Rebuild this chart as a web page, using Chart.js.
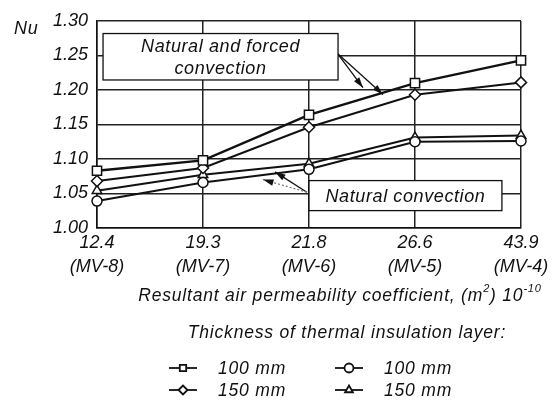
<!DOCTYPE html>
<html>
<head>
<meta charset="utf-8">
<script src="https://cdn.jsdelivr.net/npm/chart.js@4.4.1/dist/chart.umd.min.js"></script>
<style>
  html, body { margin: 0; padding: 0; background: #fff; }
</style>
</head>
<body>
<canvas id="nuChart" width="553" height="404"></canvas>
<script>
// x categories: permeability value + sample name
const permeability = ["12.4", "19.3", "21.8", "26.6", "43.9"];
const samples = ["(MV-8)", "(MV-7)", "(MV-6)", "(MV-5)", "(MV-4)"];

// Nu values
const forced100 = [1.083, 1.098, 1.164, 1.210, 1.243];
const forced150 = [1.068, 1.087, 1.146, 1.193, 1.211];
const natural100 = [1.039, 1.066, 1.085, 1.125, 1.126];
const natural150 = [1.054, 1.077, 1.093, 1.131, 1.134];

const legendLabels = ["100 mm", "150 mm", "100 mm", "150 mm"];

const FONT = "'Liberation Sans', Arial, sans-serif";
const INK = "#111";

Chart.defaults.font.family = FONT;
Chart.defaults.font.style = "italic";
Chart.defaults.font.size = 18;
Chart.defaults.color = INK;

function italic(size) {
  return "italic " + size + "px " + FONT;
}

// boxes + arrows, given in data units (category index, Nu)
const notes = [
  {
    lines: ["Natural and forced", "convection"],
    box: [0.057, 1.2818, 2.274, 1.2145],
    arrows: [
      { from: [2.264, 1.2537], to: [2.509, 1.2033], dotted: false },
      { from: [2.264, 1.2537], to: [2.698, 1.1935], dotted: false },
    ],
  },
  {
    lines: ["Natural convection"],
    box: [2.0, 1.0687, 3.82, 1.0252],
    arrows: [
      { from: [1.98, 1.0519], to: [1.68, 1.0813], dotted: false },
      { from: [1.98, 1.0519], to: [1.566, 1.0701], dotted: true },
    ],
  },
];

function arrow(ctx, x1, y1, x2, y2, dotted) {
  const ang = Math.atan2(y2 - y1, x2 - x1);
  ctx.save();
  ctx.strokeStyle = dotted ? "#777" : INK;
  ctx.lineWidth = dotted ? 1.2 : 1.3;
  if (dotted) ctx.setLineDash([2, 2]);
  ctx.beginPath();
  ctx.moveTo(x1, y1);
  ctx.lineTo(x2, y2);
  ctx.stroke();
  ctx.setLineDash([]);
  ctx.fillStyle = INK;
  ctx.beginPath();
  ctx.moveTo(x2, y2);
  ctx.lineTo(x2 - 11 * Math.cos(ang - 0.3), y2 - 11 * Math.sin(ang - 0.3));
  ctx.lineTo(x2 - 11 * Math.cos(ang + 0.3), y2 - 11 * Math.sin(ang + 0.3));
  ctx.closePath();
  ctx.fill();
  ctx.restore();
}

const notesPlugin = {
  id: "notes",
  afterDatasetsDraw(chart) {
    const ctx = chart.ctx;
    const xs = chart.scales.x;
    const ys = chart.scales.y;
    notes.forEach((n) => {
      const x1 = xs.getPixelForValue(n.box[0]);
      const y1 = ys.getPixelForValue(n.box[1]);
      const x2 = xs.getPixelForValue(n.box[2]);
      const y2 = ys.getPixelForValue(n.box[3]);
      n.arrows.forEach((a) => {
        arrow(ctx, xs.getPixelForValue(a.from[0]), ys.getPixelForValue(a.from[1]),
          xs.getPixelForValue(a.to[0]), ys.getPixelForValue(a.to[1]), a.dotted);
      });
      ctx.save();
      ctx.fillStyle = "#fff";
      ctx.strokeStyle = INK;
      ctx.lineWidth = 1.3;
      ctx.fillRect(x1, y1, x2 - x1, y2 - y1);
      ctx.strokeRect(x1, y1, x2 - x1, y2 - y1);
      ctx.fillStyle = INK;
      ctx.font = italic(18);
      ctx.letterSpacing = "0.6px";
      ctx.textAlign = "center";
      ctx.textBaseline = "middle";
      const cx = (x1 + x2) / 2;
      const lh = 22;
      const top = (y1 + y2) / 2 - ((n.lines.length - 1) * lh) / 2;
      n.lines.forEach((t, i) => ctx.fillText(t, cx, top + i * lh + 1));
      ctx.restore();
    });
  },
  afterDraw(chart) {
    const ctx = chart.ctx;
    ctx.save();
    ctx.fillStyle = INK;
    ctx.textBaseline = "middle";
    ctx.letterSpacing = "0.8px";

    // y title
    ctx.font = italic(18);
    ctx.textAlign = "left";
    ctx.fillText("Nu", 14, 29);

    // x title with superscripts
    const parts = [
      ["Resultant air permeability coefficient, (m", false],
      ["2", true],
      [") 10", false],
      ["-10", true],
    ];
    let w = 0;
    parts.forEach((p) => {
      ctx.font = italic(p[1] ? 11 : 17.5);
      w += ctx.measureText(p[0]).width;
    });
    let x = 340 - w / 2;
    parts.forEach((p) => {
      ctx.font = italic(p[1] ? 11 : 17.5);
      ctx.fillText(p[0], x, p[1] ? 289 : 296);
      x += ctx.measureText(p[0]).width;
    });

    // legend
    ctx.font = italic(17.5);
    ctx.textAlign = "center";
    ctx.fillText("Thickness of thermal insulation layer:", 347, 333);

    const slots = [
      [183, 368],
      [183, 390],
      [349, 368],
      [349, 390],
    ];
    ctx.textAlign = "left";
    slots.forEach((s, i) => {
      const ds = chart.data.datasets[i];
      ctx.strokeStyle = INK;
      ctx.lineWidth = 1.8;
      ctx.beginPath();
      ctx.moveTo(s[0] - 14, s[1]);
      ctx.lineTo(s[0] + 14, s[1]);
      ctx.stroke();
      ctx.fillStyle = "#fff";
      Chart.helpers.drawPoint(ctx, {
        pointStyle: ds.pointStyle,
        radius: 4.5,
        borderWidth: 1.2,
      }, s[0], s[1]);
      ctx.fillStyle = INK;
      ctx.fillText(legendLabels[i], s[0] + 35, s[1] + 1);
    });
    ctx.restore();
  },
};

function series(data, style, radius, width) {
  return {
    data: data,
    borderColor: INK,
    borderWidth: width,
    pointStyle: style,
    pointRadius: radius,
    pointBackgroundColor: "#fff",
    pointBorderColor: INK,
    pointBorderWidth: 1.5,
    tension: 0,
  };
}

const tickFont = { family: FONT, style: "italic", size: 18, lineHeight: 1.33 };

new Chart(document.getElementById("nuChart"), {
  type: "line",
  data: {
    labels: permeability.map((p, i) => [p, samples[i]]),
    datasets: [
      series(forced100, "rect", 6.5, 2.4),
      series(forced150, "rectRot", 5.5, 2),
      series(natural100, "circle", 5, 2),
      series(natural150, "triangle", 5.5, 2),
    ],
  },
  options: {
    responsive: false,
    animation: false,
    layout: { padding: { top: 14, right: 32, left: 0, bottom: 0 } },
    plugins: {
      legend: { display: false },
      tooltip: { enabled: false },
    },
    scales: {
      x: {
        offset: false,
        grid: { color: "#222", lineWidth: 1.5, drawTicks: false },
        border: { color: INK, width: 1.5 },
        ticks: { color: INK, font: tickFont, padding: 3, maxRotation: 0, autoSkip: false },
        afterFit(scale) {
          scale.height = 176;
        },
      },
      y: {
        min: 1.0,
        max: 1.3,
        grid: { color: "#222", lineWidth: 1.5, drawTicks: false },
        border: { color: INK, width: 1.5 },
        ticks: {
          stepSize: 0.05,
          color: INK,
          font: tickFont,
          padding: 9,
          callback: (v) => v.toFixed(2),
        },
        afterFit(scale) {
          scale.width = 97;
        },
      },
    },
  },
  plugins: [notesPlugin],
});
</script>
</body>
</html>
